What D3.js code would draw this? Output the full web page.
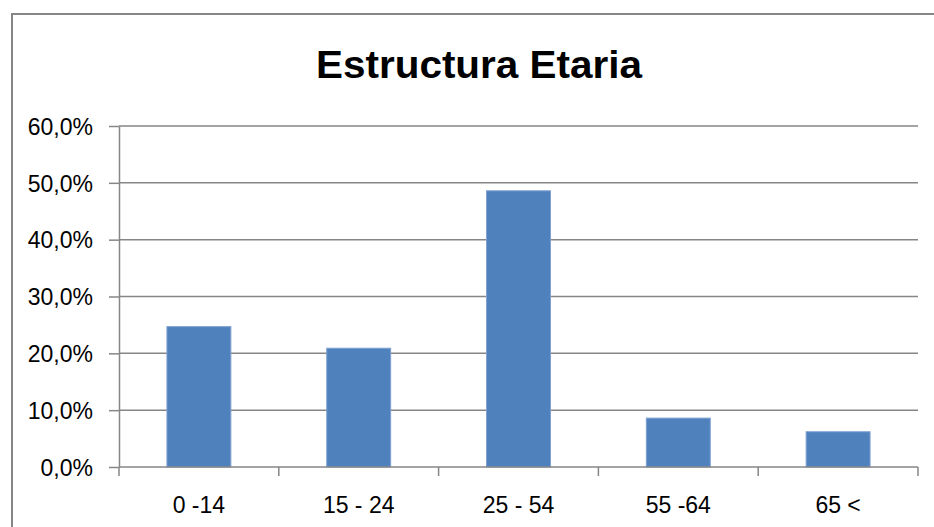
<!DOCTYPE html>
<html>
<head>
<meta charset="utf-8">
<script src="https://cdn.jsdelivr.net/npm/d3@7"></script>
<style>
	body { margin:0; background:#fff; }
	svg { display:block; }
	.axis text { font-family:"Liberation Sans", Arial, sans-serif; font-size:23px; fill:#000; }
	.axis path, .axis line { stroke:#868686; stroke-width:1.5; }
	.grid line { stroke:#868686; stroke-width:1.5; }
</style>
</head>
<body>
<div id="svgContainer"></div>
<script>
// data
const categories = ["0 -14", "15 - 24", "25 - 54", "55 -64", "65 <"];
const values = [0.247, 0.209, 0.486, 0.086, 0.062];
const yTicks = [0, 0.1, 0.2, 0.3, 0.4, 0.5, 0.6];
const title = "Estructura Etaria";

const width = 934, height = 527;
const margin = {top:126, bottom:60, left:119, right:16}; // plot area 119..918, 126..467

var svg = d3.select("#svgContainer").append("svg")
	.attr("width", width)
	.attr("height", height);

// chart frame (runs off the right and bottom edges)
svg.append("rect")
	.attr("x", 12).attr("y", 14)
	.attr("width", 940).attr("height", 540)
	.attr("fill", "none")
	.attr("stroke", "#868686")
	.attr("stroke-width", 2);

svg.append("text")
	.attr("x", 479).attr("y", 78)
	.attr("text-anchor", "middle")
	.attr("textLength", 326)
	.attr("lengthAdjust", "spacingAndGlyphs")
	.style("font-family", "'Liberation Sans', Arial, sans-serif")
	.style("font-weight", "bold")
	.style("font-size", "38px")
	.text(title);

var xScale = d3.scaleBand()
	.domain(categories)
	.range([margin.left, width - margin.right])
	.paddingInner(0.6)
	.paddingOuter(0.3);

var yScale = d3.scaleLinear()
	.domain([0, 0.6])
	.range([height - margin.bottom, margin.top]);

var fmt = function(d){ return d3.format(".1%")(d).replace(".", ","); };

// gridlines
svg.append("g").attr("class", "grid")
	.selectAll("line")
	.data(yTicks.slice(1))
	.enter().append("line")
	.attr("x1", margin.left).attr("x2", width - margin.right)
	.attr("y1", function(d){ return yScale(d); })
	.attr("y2", function(d){ return yScale(d); });

// bars
svg.append("g")
	.selectAll("rect")
	.data(values)
	.enter().append("rect")
	.attr("x", function(d, i){ return xScale(categories[i]); })
	.attr("y", function(d){ return yScale(d); })
	.attr("width", xScale.bandwidth())
	.attr("height", function(d){ return yScale(0) - yScale(d); })
	.attr("fill", "#4F81BD")
	.attr("stroke", "#7EA1D2")
	.attr("stroke-width", 1);

// y axis
var yAxis = d3.axisLeft(yScale).tickValues(yTicks).tickFormat(fmt).tickSize(10).tickSizeOuter(0).tickPadding(16);
svg.append("g").attr("class", "axis")
	.attr("transform", "translate(" + margin.left + ",0)")
	.call(yAxis)
	.selectAll("text").attr("dy", "0.36em");

// x axis, ticks between categories
var step = xScale.step();
var xAxisG = svg.append("g").attr("class", "axis")
	.attr("transform", "translate(0," + yScale(0) + ")");
xAxisG.append("line")
	.attr("x1", margin.left).attr("x2", width - margin.right);
xAxisG.selectAll(".tk")
	.data(d3.range(categories.length + 1))
	.enter().append("line")
	.attr("class", "tk")
	.attr("x1", function(i){ return margin.left + i * step; })
	.attr("x2", function(i){ return margin.left + i * step; })
	.attr("y1", 0).attr("y2", 9);
xAxisG.selectAll("text")
	.data(categories)
	.enter().append("text")
	.attr("x", function(d){ return xScale(d) + xScale.bandwidth() / 2; })
	.attr("y", 46)
	.attr("text-anchor", "middle")
	.text(function(d){ return d; });
</script>
</body>
</html>
